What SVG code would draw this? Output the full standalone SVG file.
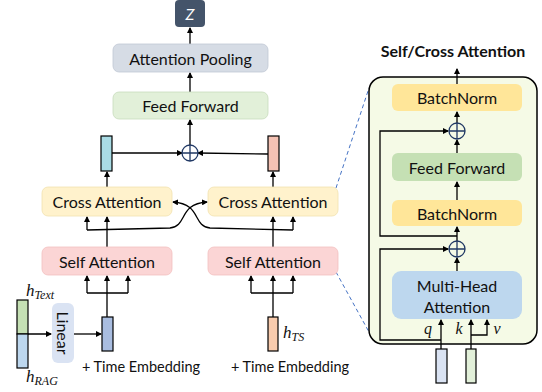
<svg xmlns="http://www.w3.org/2000/svg" width="542" height="392" viewBox="0 0 542 392">
<defs>
<marker id="ah" markerWidth="6" markerHeight="6" refX="5" refY="3" orient="auto" markerUnits="userSpaceOnUse">
<path d="M0,0 L6,3 L0,6 z" fill="#000"/>
</marker>
<style>
.t{font-family:Lato,"Liberation Sans",Arial,sans-serif;font-size:16px;fill:#111;text-anchor:middle;dominant-baseline:central}
.s{font-size:14.5px}
.m{font-family:"Liberation Serif","Times New Roman",serif;font-style:italic;fill:#111}
.c{fill:none;stroke:#000;stroke-width:1.3}
.a{fill:none;stroke:#000;stroke-width:1.3;marker-end:url(#ah)}
.op{fill:#fff;stroke:#203864;stroke-width:1.3}
.d{fill:none;stroke:#4472c4;stroke-width:1;stroke-dasharray:4,3}
.vec{stroke:#000;stroke-width:1.2}
</style>
</defs>
<rect width="542" height="392" fill="#fff"/>

<g id="connectors">
<line class="a" x1="190" y1="44" x2="190" y2="28"/>
<line class="a" x1="190" y1="92" x2="190" y2="73"/>
<line class="a" x1="190" y1="145" x2="190" y2="120"/>
<line class="a" x1="112" y1="153" x2="182" y2="153"/>
<line class="a" x1="268" y1="154" x2="198" y2="153"/>
<line class="a" x1="107" y1="187" x2="107" y2="172"/>
<line class="a" x1="273" y1="187" x2="273" y2="172"/>
<line class="a" x1="107" y1="247" x2="107" y2="217"/>
<line class="a" x1="273" y1="247" x2="273" y2="217"/>
<path class="a" d="M87,230 L87,217"/>
<path class="a" d="M293,230 L293,217"/>
<path class="a" d="M87,230 L170,228 C188,226 178,204 207,202"/>
<path class="a" d="M293,230 L210,228 C192,226 202,204 173,202"/>
<path class="c" d="M87,293 L128,293 M107,293 L107,317"/>
<line class="a" x1="87" y1="293" x2="87" y2="276"/>
<line class="a" x1="107" y1="293" x2="107" y2="276"/>
<line class="a" x1="128" y1="293" x2="128" y2="276"/>
<path class="c" d="M251,293 L293,293 M273,293 L273,317"/>
<line class="a" x1="251" y1="293" x2="251" y2="276"/>
<line class="a" x1="273" y1="293" x2="273" y2="276"/>
<line class="a" x1="293" y1="293" x2="293" y2="276"/>
<line class="a" x1="17" y1="334" x2="51" y2="334"/>
<line class="a" x1="74" y1="334" x2="101" y2="334"/>
<line class="d" x1="336" y1="188" x2="369" y2="88"/>
<line class="d" x1="336" y1="272" x2="369" y2="332"/>
</g>

<g id="z">
<rect x="175" y="0" width="30" height="27" rx="4" fill="#44546a"/>
<text x="190" y="13" class="t" style="fill:#fff;font-style:italic">Z</text>
</g>
<g id="attention-pooling">
<rect x="113" y="44" width="155" height="28" rx="6" fill="#d6dce5" stroke="#c0c8d4" stroke-width="0.8"/>
<text x="190.5" y="58" class="t">Attention Pooling</text>
</g>
<g id="feed-forward">
<rect x="113" y="92" width="155" height="27" rx="6" fill="#e2f0d9" stroke="#c8dcbc" stroke-width="0.8"/>
<text x="190.5" y="105.5" class="t">Feed Forward</text>
</g>
<g id="add-main">
<circle cx="190" cy="153" r="8" class="op"/>
<path d="M182,153 H198 M190,145 V161" stroke="#203864" stroke-width="1.3"/>
</g>
<g id="vec-cross-left"><rect x="101" y="136" width="11" height="35" fill="#a9dbe4" class="vec"/></g>
<g id="vec-cross-right"><rect x="268" y="136" width="11" height="35" fill="#f4c2b4" class="vec"/></g>
<g id="cross-attention-left">
<rect x="42" y="187" width="130" height="29" rx="6" fill="#fff2cc" stroke="#f1e2b0" stroke-width="0.8"/>
<text x="107" y="201.5" class="t">Cross Attention</text>
</g>
<g id="cross-attention-right">
<rect x="208" y="187" width="130" height="29" rx="6" fill="#fff2cc" stroke="#f1e2b0" stroke-width="0.8"/>
<text x="273" y="201.5" class="t">Cross Attention</text>
</g>
<g id="self-attention-left">
<rect x="42" y="247" width="130" height="28" rx="6" fill="#fbd5d5" stroke="#f2c0c0" stroke-width="0.8"/>
<text x="107" y="261" class="t">Self Attention</text>
</g>
<g id="self-attention-right">
<rect x="208" y="247" width="130" height="28" rx="6" fill="#fbd5d5" stroke="#f2c0c0" stroke-width="0.8"/>
<text x="273" y="261" class="t">Self Attention</text>
</g>
<g id="h-input">
<rect x="17" y="300" width="11" height="34" fill="#c5e0b4" class="vec"/>
<rect x="17" y="334" width="11" height="34" fill="#bdd7ee" class="vec"/>
<text x="26" y="296" class="m" font-size="17">h<tspan font-size="12" dy="3">Text</tspan></text>
<text x="26" y="382" class="m" font-size="17">h<tspan font-size="12" dy="3">RAG</tspan></text>
</g>
<g id="linear">
<rect x="52" y="303" width="22" height="60" rx="6" fill="#dae3f3"/>
<text x="63" y="333" class="t" transform="rotate(90 63 333)">Linear</text>
</g>
<g id="vec-text">
<rect x="102" y="317" width="11" height="34" fill="#a9bde0" class="vec"/>
<text x="141" y="366" class="t s">+ Time Embedding</text>
</g>
<g id="vec-ts">
<rect x="268" y="317" width="10" height="34" fill="#f8cbad" class="vec"/>
<text x="283" y="338" class="m" font-size="17">h<tspan font-size="12" dy="3">TS</tspan></text>
<text x="290" y="366" class="t s">+ Time Embedding</text>
</g>

<g id="self-cross-panel">
<text x="453" y="50" class="t" style="font-weight:bold;font-size:16px">Self/Cross Attention</text>
<rect x="369" y="77" width="168" height="267" rx="14" fill="#f5fae6" stroke="#000" stroke-width="1.5"/>
</g>
<g id="panel-connectors">
<line class="a" x1="457" y1="84" x2="457" y2="69"/>
<line class="a" x1="457" y1="123" x2="457" y2="112"/>
<line class="a" x1="457" y1="153" x2="457" y2="140"/>
<line class="a" x1="457" y1="200" x2="457" y2="182"/>
<line class="a" x1="457" y1="241" x2="457" y2="227"/>
<line class="a" x1="457" y1="271" x2="457" y2="258"/>
<path class="a" d="M457,236 L380,236 L380,131 L448,131"/>
<path class="a" d="M441,340 L380,340 L380,249 L448,249"/>
<line class="a" x1="441" y1="349" x2="441" y2="320"/>
<line class="a" x1="471" y1="349" x2="471" y2="320"/>
<path class="a" d="M471,335 L487,335 L487,320"/>
</g>
<g id="batchnorm-top">
<rect x="392" y="84" width="130" height="27" rx="6" fill="#ffe699"/>
<text x="457" y="97.5" class="t">BatchNorm</text>
</g>
<g id="add-upper">
<circle cx="457" cy="131" r="8" class="op" style="fill:none"/>
<path d="M449,131 H465 M457,123 V139" stroke="#203864" stroke-width="1.3"/>
</g>
<g id="feed-forward-panel">
<rect x="392" y="153" width="130" height="28" rx="6" fill="#c5e0b4"/>
<text x="457" y="167" class="t">Feed Forward</text>
</g>
<g id="batchnorm-bottom">
<rect x="392" y="200" width="130" height="26" rx="6" fill="#ffe699"/>
<text x="457" y="213" class="t">BatchNorm</text>
</g>
<g id="add-lower">
<circle cx="457" cy="249" r="8" class="op" style="fill:none"/>
<path d="M449,249 H465 M457,241 V257" stroke="#203864" stroke-width="1.3"/>
</g>
<g id="multi-head-attention">
<rect x="392" y="271" width="130" height="48" rx="9" fill="#bdd7ee"/>
<text x="457" y="285" class="t">Multi-Head</text>
<text x="457" y="306" class="t">Attention</text>
</g>
<g id="qkv">
<text x="428" y="334" class="m" font-size="16" text-anchor="middle">q</text>
<text x="459" y="334" class="m" font-size="16" text-anchor="middle">k</text>
<text x="497" y="334" class="m" font-size="16" text-anchor="middle">v</text>
<rect x="436" y="349" width="11" height="34" fill="#dae3f3" class="vec"/>
<rect x="466" y="349" width="10" height="34" fill="#e2f0d9" class="vec"/>
</g>
</svg>
